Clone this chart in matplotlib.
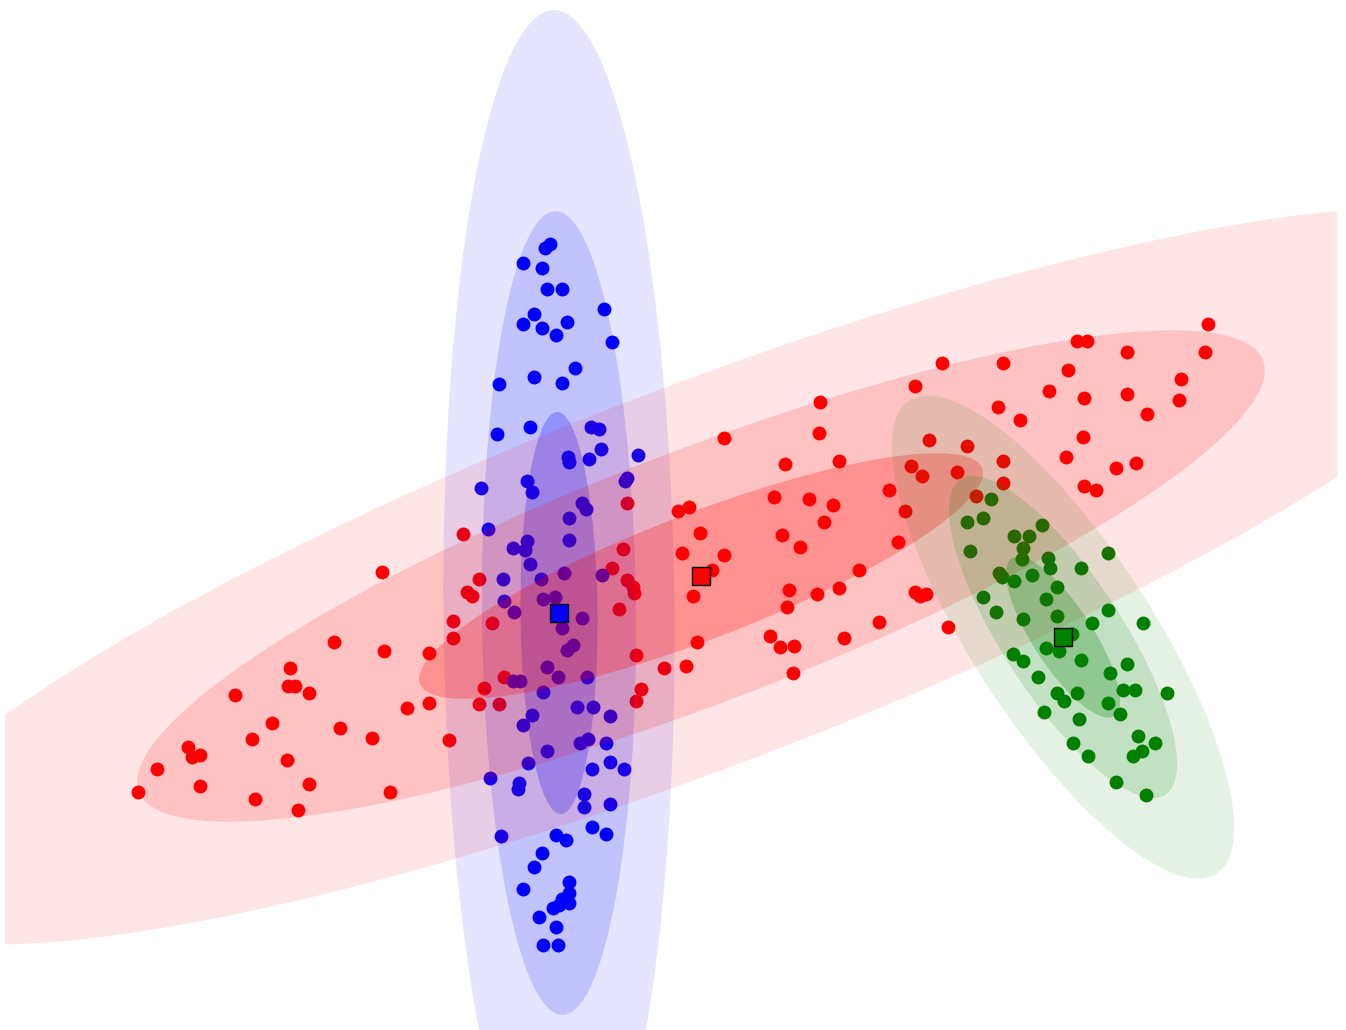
import numpy as np
import matplotlib
matplotlib.use("Agg")
import matplotlib.pyplot as plt
from matplotlib.patches import Ellipse

# Sample points of the three mixture components (x, y with y growing downward)
red_x = [382, 463, 479, 467, 472, 453, 453, 334, 384, 429, 290, 288, 295, 309, 235, 429, 407, 479,
         272, 340, 372, 252, 449, 188, 192, 200, 287, 157, 309, 200, 138, 390, 255, 298,
         627, 623, 612, 627, 633, 634, 619, 492, 636, 664, 504, 484, 641, 636, 499,
         820, 915, 724, 819, 929, 785, 839, 911, 922, 889, 678, 689, 774, 809, 833, 824, 905,
         700, 782, 800, 682, 724, 712, 898, 859, 693, 789, 817, 839, 787, 915, 926, 920, 879,
         697, 770, 780, 794, 844, 686, 793,
         1208, 1077, 1087, 1127, 1205, 942, 1003, 1068, 1049, 1084, 1127, 1181, 1179, 998, 1020,
         1147, 1083, 967, 1066, 1003, 957, 1116, 1136, 1003, 1084, 1096, 976, 948]
red_y = [572, 534, 579, 592, 596, 621, 638, 642, 651, 653, 668, 686, 686, 693, 695, 703, 708, 704,
         723, 728, 738, 739, 740, 747, 757, 755, 760, 769, 784, 786, 792, 792, 799, 810,
         503, 549, 568, 580, 587, 593, 609, 623, 655, 668, 677, 688, 689, 701, 704,
         402, 386, 438, 433, 440, 464, 461, 466, 476, 490, 511, 507, 497, 499, 505, 522, 511,
         533, 535, 547, 553, 555, 570, 542, 570, 596, 590, 594, 588, 607, 592, 594, 596, 622,
         642, 636, 647, 646, 638, 666, 673,
         324, 341, 341, 352, 352, 363, 363, 370, 391, 398, 394, 379, 400, 407, 420,
         414, 437, 446, 457, 461, 472, 468, 463, 483, 486, 490, 496, 627]

blue_x = [550, 545, 523, 542, 547, 562, 604, 534, 523, 542, 567, 556, 612, 575, 499, 534, 562,
          497, 530, 591, 599, 568, 569, 589, 601, 638,
          481, 527, 532, 625, 627, 582, 586, 569, 488, 527, 513, 525, 569, 530, 503, 541, 564,
          602, 504, 514, 543, 555, 582, 562, 573, 567, 547, 513, 520, 558, 587, 543, 577, 593,
          610, 532, 523, 580, 588, 606, 547, 528, 610, 592, 624, 490, 519, 518, 584, 584, 610,
          501, 592, 606, 556, 566, 542, 534, 569, 523, 569, 562, 569, 553, 559, 539, 556, 543, 558]
blue_y = [244, 248, 263, 268, 289, 289, 309, 314, 324, 328, 322, 335, 342, 368, 384, 377, 383,
          434, 427, 427, 429, 457, 462, 459, 449, 455,
          488, 481, 492, 481, 478, 503, 509, 518, 529, 541, 548, 550, 540, 564, 579, 579, 573,
          575, 601, 612, 599, 597, 618, 628, 645, 650, 667, 681, 681, 677, 677, 692, 707, 707,
          716, 715, 725, 743, 739, 743, 751, 763, 762, 769, 769, 778, 783, 789, 794, 807, 804,
          836, 827, 834, 835, 840, 853, 867, 882, 889, 893, 899, 903, 908, 905, 917, 927, 945, 945]

green_x = [991, 967, 983, 1042, 1014, 1029, 1023, 1022, 970, 1048, 1050, 1108, 1081, 999, 1002,
           1014, 1032, 1057, 983, 1046, 996, 1023, 1057, 1108, 1092, 1143, 1072, 1046, 1059, 1013,
           1023, 1081, 1127, 1110, 1038, 1123, 1135, 1167, 1057, 1064, 1077, 1108, 1120, 1044,
           1079, 1138, 1155, 1142, 1133, 1073, 1088, 1116, 1146]
green_y = [499, 522, 518, 525, 536, 536, 548, 559, 551, 558, 568, 553, 568, 573, 577,
           581, 575, 587, 597, 599, 612, 619, 616, 610, 623, 623, 634, 648, 651, 654,
           661, 660, 664, 673, 677, 690, 690, 693, 693, 701, 693, 703, 714, 712,
           719, 736, 743, 751, 756, 743, 756, 782, 795]

# Component means and 1-sigma ellipse geometry (full axis lengths, rotation in degrees)
means_x = [701, 559, 1063]
means_y = [576, 613, 637]
ell_width = [602, 402, 188]
ell_height = [126, 77, 60]
ell_angle = [-21, 89.5, 57]
colors = ["red", "blue", "green"]

fig = plt.figure(figsize=(13.46, 10.30), dpi=100)
ax = fig.add_axes([5 / 1346, 0, 1332 / 1346, 1])
ax.set_xlim(5, 1337)
ax.set_ylim(1030, 0)
ax.axis("off")

ax.scatter(red_x, red_y, s=100, c="red", linewidths=0, zorder=1)
ax.scatter(blue_x, blue_y, s=100, c="blue", linewidths=0, zorder=1)
ax.scatter(green_x, green_y, s=100, c="green", linewidths=0, zorder=1)

# 1, 2 and 3 sigma contours of each Gaussian
sigma_alpha = {1: 0.25, 2: 0.15, 3: 0.1}
for order, k in enumerate([1, 0, 2]):
    for nsig in (3, 2, 1):
        ax.add_patch(Ellipse((means_x[k], means_y[k]), nsig * ell_width[k],
                             nsig * ell_height[k], angle=ell_angle[k],
                             facecolor=colors[k], edgecolor="none",
                             alpha=sigma_alpha[nsig], zorder=2))

ax.scatter(means_x, means_y, s=150, marker="s", c=colors, edgecolors="black",
           linewidths=1, zorder=3)

fig.savefig("out.png", dpi=100)
